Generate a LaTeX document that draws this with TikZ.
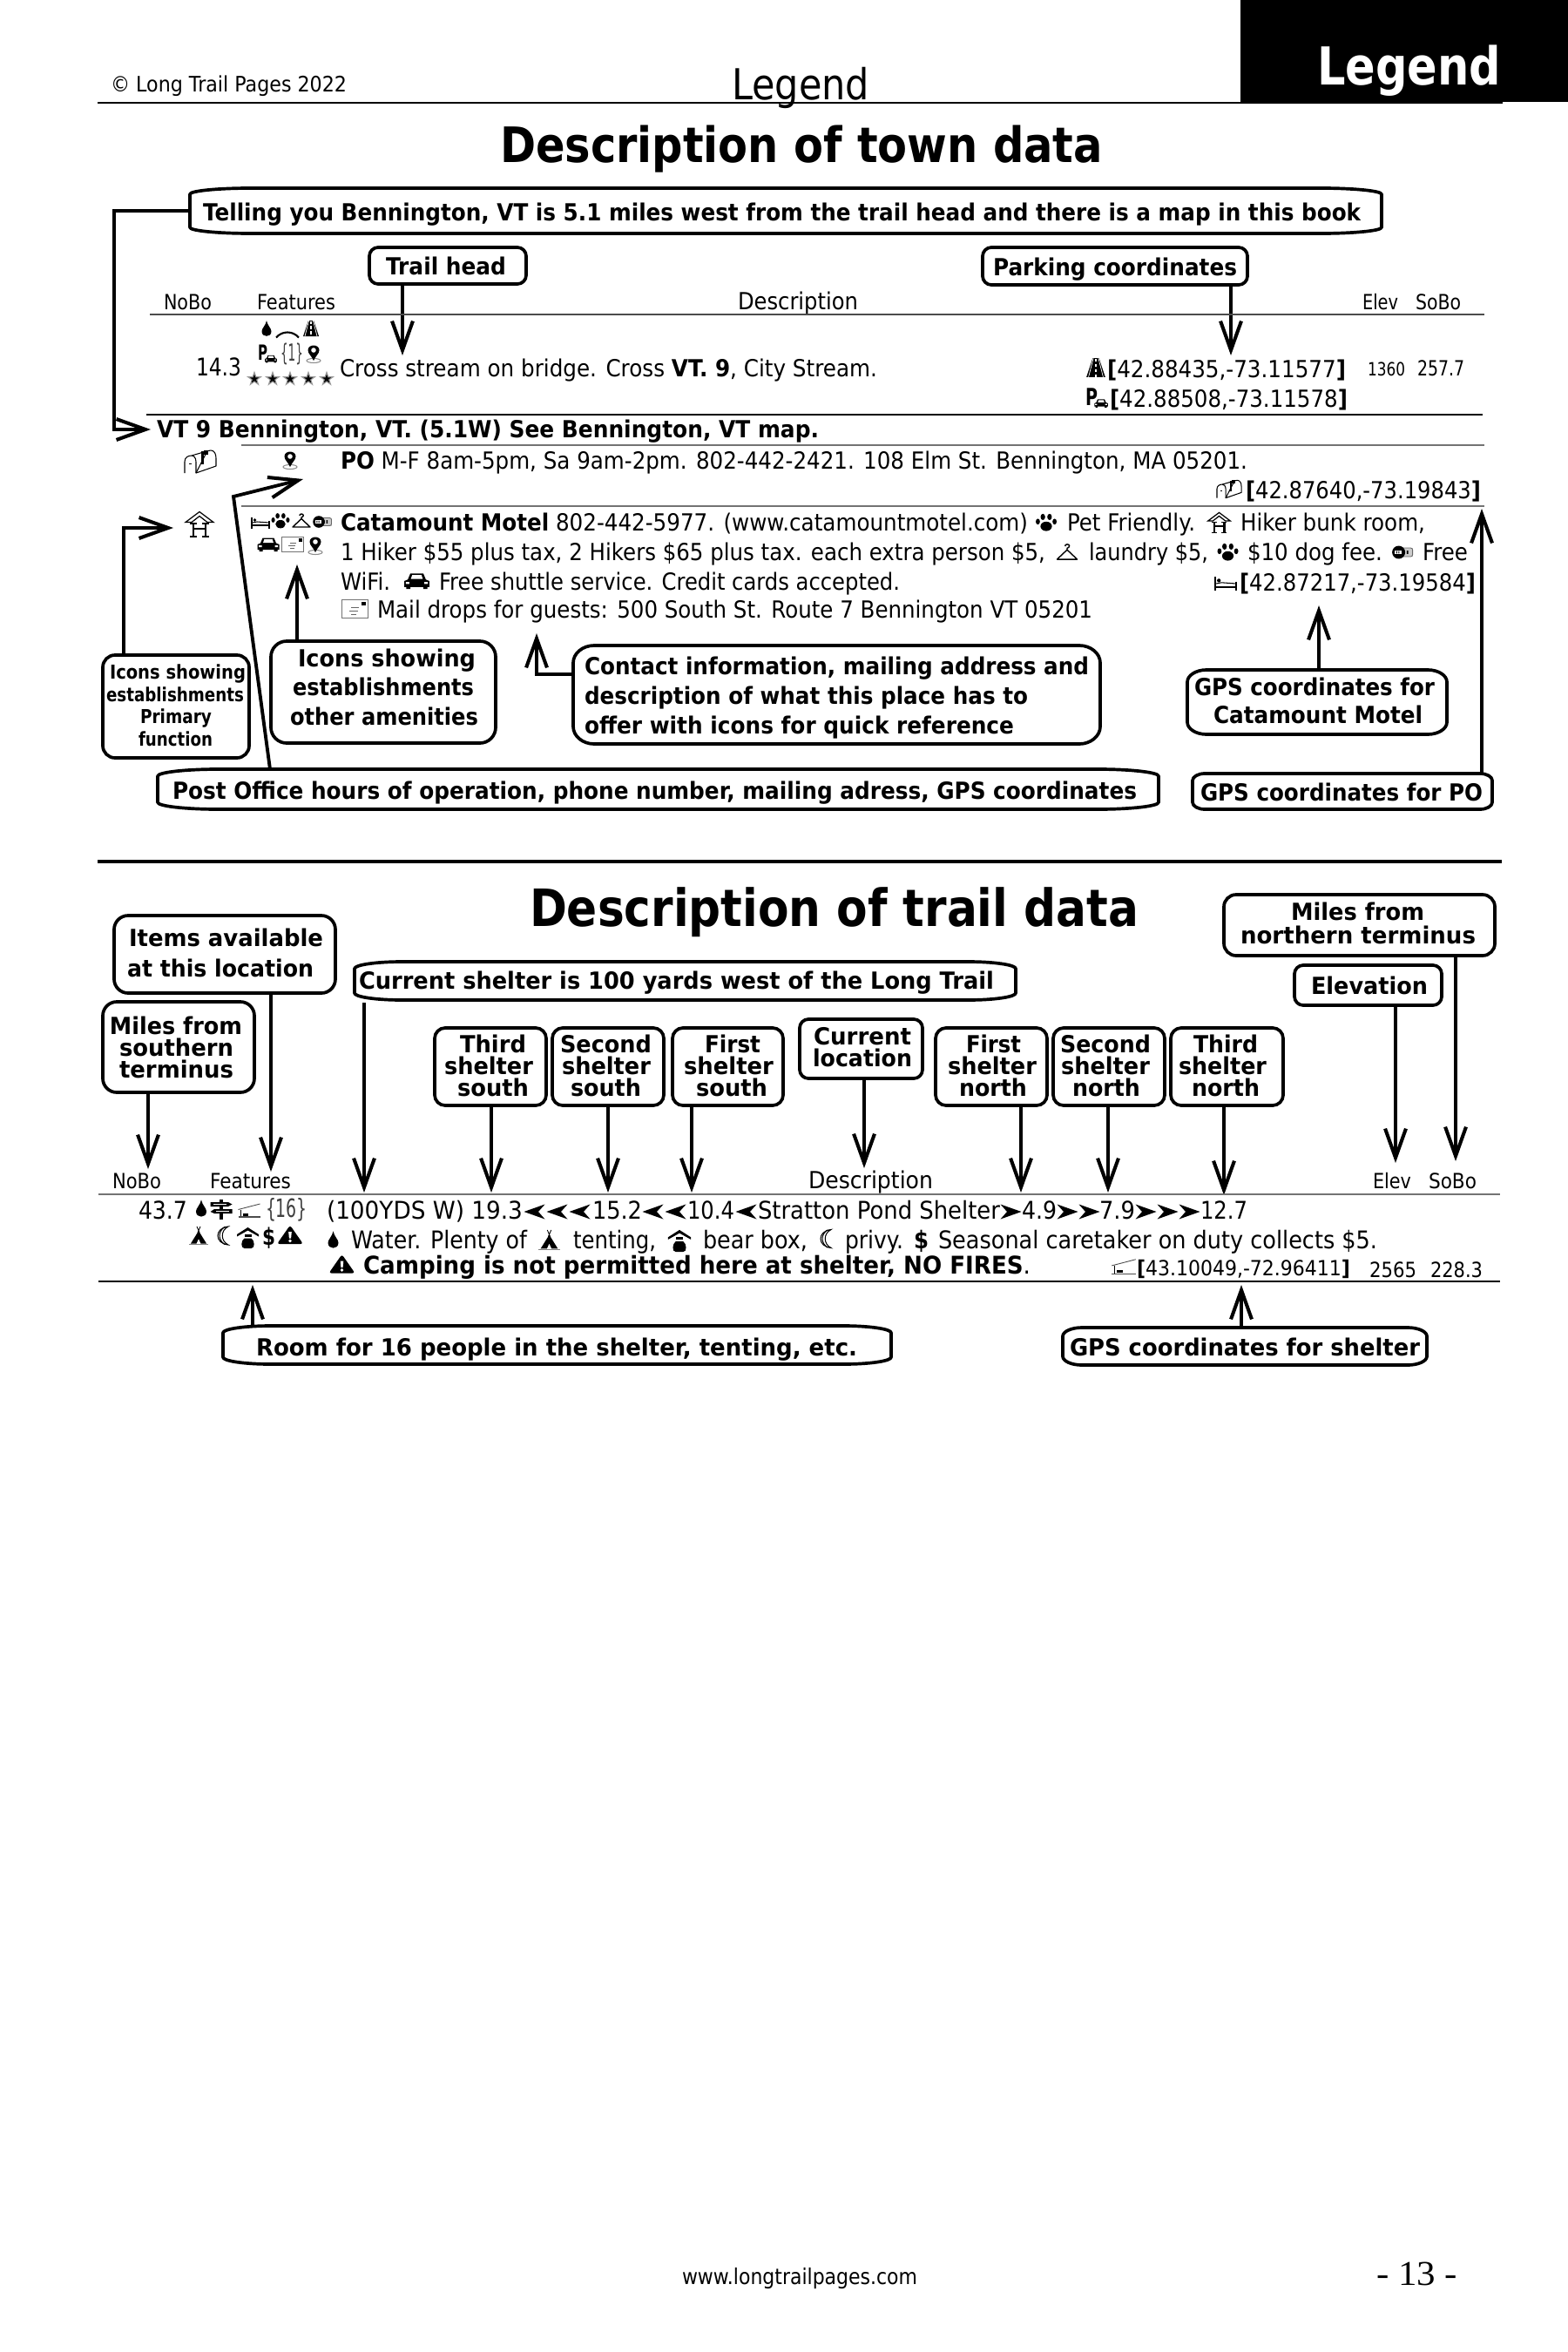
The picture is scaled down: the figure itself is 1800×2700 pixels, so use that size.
\documentclass[tikz,border=0pt]{standalone}
\usepackage{fontspec}
\usepackage{graphicx}
\setmainfont{DejaVu Sans}
\newfontfamily\pageserif{Liberation Serif}
\usetikzlibrary{arrows.meta,calc}
\newdimen\pxu \pxu=0.01cm
\newcommand\fz[1]{\pgfmathsetmacro\tmpfs{#1*0.2845}\fontsize{\tmpfs pt}{\tmpfs pt}\selectfont}
% name, x, baseline, width, size, text
\newcommand\tw[6]{\node[lbl] (#1) at (#2,#3) {\fz{#5}\resizebox{#4\pxu}{\height}{#6}};}
\newcommand\bw[6]{\tw{#1}{#2}{#3}{#4}{#5}{\bfseries #6}}
% name x1 y1 x2 y2 rx ry
\newcommand\ebox[7]{%
 \pgfmathsetmacro\ew{#4-(#2)}\pgfmathsetmacro\eh{#5-(#3)}%
 \node[boxanch,minimum width=\ew\pxu,minimum height=\eh\pxu] (#1) at ({(#2+#4)/2},{(#3+#5)/2}) {};%
 \draw[boxline] (#2+#6,#3) -- (#4-#6,#3) .. controls (#4-.45*#6,#3) and (#4,#3+.45*#7) .. (#4,#3+#7)
 -- (#4,#5-#7) .. controls (#4,#5-.45*#7) and (#4-.45*#6,#5) .. (#4-#6,#5)
 -- (#2+#6,#5) .. controls (#2+.45*#6,#5) and (#2,#5-.45*#7) .. (#2,#5-#7)
 -- (#2,#3+#7) .. controls (#2,#3+.45*#7) and (#2+.45*#6,#3) .. (#2+#6,#3) -- cycle;}
% id, box, anchor, x, y
\newcommand\varr[5]{\coordinate (#1) at (#4,#5); \draw[arr] (#2.#3 -| #1) -- (#1);}
\tikzset{
 lbl/.style={anchor=base west,inner sep=0pt,outer sep=0pt},
 boxanch/.style={rectangle,inner sep=0pt,outer sep=0pt},
 boxline/.style={line width=1.05pt,line join=round},
 arr/.style={line width=1.1pt,-{Straight Barb[length=9.5pt,width=6.8pt,line width=1.15pt]}},
 rulek/.style={line width=.75pt},
 rulet/.style={line width=.4pt},
 ruleg/.style={line width=.45pt,black!55},
 idrop/.pic={\fill (0,-8) .. controls (1,-3) and (5,0) .. (5,3) .. controls (5,6.5) and (2.5,8) .. (0,8) .. controls (-2.5,8) and (-5,6.5) .. (-5,3) .. controls (-5,0) and (-1,-3) .. (0,-8) -- cycle;},
 ibridge/.pic={\draw[line width=.6pt] (-13,3.5) .. controls (-6,-4.5) and (6,-4.5) .. (13,3.5);},
 iroad/.pic={\fill (-3,-9) -- (3,-9) -- (9,9) -- (-9,9) -- cycle;
   \draw[white,line width=.35pt,dash pattern=on 1pt off .7pt] (0,-8.5) -- (0,9);
   \draw[white,line width=.2pt] (-2.4,-9) -- (-7,9) (2.4,-9) -- (7,9);},
 icar/.pic={\fill (-12.5,6) -- (-12.5,0) -- (-9,-1.5) -- (-6.5,-7.5) -- (6.5,-7.5) -- (9,-1.5) -- (12.5,0) -- (12.5,6) -- (10.5,6) -- (10.5,8) -- (6.5,8) -- (6.5,6) -- (-6.5,6) -- (-6.5,8) -- (-10.5,8) -- (-10.5,6) -- cycle;
   \fill[white] (-6,-2) -- (-4.6,-6) -- (4.6,-6) -- (6,-2) -- cycle;
   \fill[white] (-11,1) rectangle (-7.5,3) (7.5,1) rectangle (11,3);},
 ipin/.pic={\draw[black!45,line width=.3pt] (0,8) ellipse (8 and 2.5);
   \fill (0,8) .. controls (-2,3) and (-6.5,0) .. (-6.5,-4) .. controls (-6.5,-7.5) and (-3.5,-9.5) .. (0,-9.5) .. controls (3.5,-9.5) and (6.5,-7.5) .. (6.5,-4) .. controls (6.5,0) and (2,3) .. (0,8) -- cycle;
   \fill[white] (0,-4) circle (2.8);},
 istar/.pic={\fill[black!40,scale=9.5] (0,-1) -- (.224,-.309) -- (.951,-.309) -- (.363,.118) -- (.588,.809) -- (0,.382) -- (-.588,.809) -- (-.363,.118) -- (-.951,-.309) -- (-.224,-.309) -- cycle;
   \fill[black,scale=5.5] (0,-1) -- (.224,-.309) -- (.951,-.309) -- (.363,.118) -- (.588,.809) -- (0,.382) -- (-.588,.809) -- (-.363,.118) -- (-.951,-.309) -- (-.224,-.309) -- cycle;},
 imbox/.pic={\draw[line width=.3pt,line join=round] (-18,13) -- (-18,0) .. controls (-18,-5) and (-14,-7) .. (-10,-7) -- (2,-10.5) (8,-12.3) -- (12,-13) .. controls (16,-13) and (18,-9) .. (18,-4) -- (18,5) -- (-5,13) -- cycle;
   \draw[line width=.3pt] (-5,13) -- (-5,0) .. controls (-5,-5) and (-8,-7) .. (-10,-7);
   \fill (-13,1.5) rectangle (-10,3);
   \fill (1,3) rectangle (3.5,-12); \fill (3.5,-13) -- (8.5,-13) -- (8.5,-8) -- (3.5,-8) -- cycle;},
 ihouse/.pic={\draw[line width=.35pt,line join=miter] (0,-14.5) -- (-16,-2.5) -- (-9,-2.5) -- (0,-9.5) -- (9,-2.5) -- (16,-2.5) -- cycle;
   \draw[line width=.8pt] (-7,-1) -- (-7,13.5) (7,-1) -- (7,13.5);
   \draw[line width=.35pt] (-7,5) -- (7,5) (-11,-1) -- (-3,-1) (3,-1) -- (11,-1) (-11,14) -- (-3,14) (3,14) -- (11,14);},
 ibed/.pic={\draw[line width=.35pt] (-10,-6.5) -- (-10,6.5) (10,-2) -- (10,6.5);
   \draw[line width=.6pt] (-10,3) -- (10,3);
   \draw[line width=.3pt] (-9,0) -- (-4,-1) -- (10,0);
   \fill (-6.5,-3) circle (1.8);},
 ipaw/.pic={\fill (0,3.5) ellipse (5.5 and 4.5);
   \fill (-8,-1) ellipse (2 and 2.8) (-3.2,-5.5) ellipse (2.2 and 3) (3.2,-5.5) ellipse (2.2 and 3) (8,-1) ellipse (2 and 2.8);},
 ihanger/.pic={\draw[line width=.4pt,line join=round] (0,-2.5) -- (-10,7) -- (10,7) -- cycle;
   \draw[line width=.4pt] (0,-2.5) -- (0,-4) .. controls (3,-5) and (3,-8) .. (0,-8) .. controls (-1.5,-8) and (-2,-7) .. (-2,-6);},
 iwifi/.pic={\fill[black!20] (-4,-4.5) rectangle (10.5,4.5);
   \draw[line width=.25pt,black!60,rounded corners=.6pt] (-4,-4.5) rectangle (10.5,4.5);
   \fill (-4,0) circle (6.8);
   \fill[white] (-8,-1.8) rectangle (-1,1.8);
   \fill[black] (-6.6,-1.2) rectangle (-5.6,1.2) (-4.3,-1.2) rectangle (-3.3,1.2) (1,-1.8) rectangle (2.5,1.8) (4.5,-1.8) rectangle (6,1.8);},
 imail/.pic={\draw[line width=.25pt,black!55] (-12.5,-8.5) rectangle (12.5,8.5);
   \fill (7,-6.5) rectangle (10.5,-3);
   \draw[line width=.25pt,black!60] (-3,-1) -- (4,-1) (-5,2) -- (3,2) (-3,5) -- (2,5);},
 isign/.pic={\draw[line width=1.1pt] (0,-11) -- (0,12);
   \fill (-12.5,-8) -- (8,-8) -- (12.5,-5.5) -- (8,-3) -- (-12.5,-3) -- cycle;
   \fill (-12.5,3) -- (-8,0) -- (12.5,0) -- (12.5,5) -- (-8,5) -- cycle;
   \draw[white,line width=.25pt] (-9,-5.5) -- (6,-5.5) (-6,2.5) -- (9,2.5);},
 ishelter/.pic={\draw[line width=.25pt,black!70] (-12.5,-1) -- (12.5,-7.5);
   \draw[line width=.25pt] (-10,-.5) -- (-10,7);
   \draw[line width=.3pt,black!70] (-12.5,7.5) -- (12.5,7.5);
   \draw[line width=.7pt] (-7,5) -- (-1,5);},
 itent/.pic={\fill (0,-5) -- (9,9.5) -- (2.5,9.5) -- (0,4) -- (-2.5,9.5) -- (-9,9.5) -- cycle;
   \draw[line width=.25pt] (-2,-10) -- (1,-3) (2,-10) -- (-1,-3);
   \draw[line width=.25pt,black!50] (-11,10.5) -- (11,10.5);},
 imoon/.pic={\draw[line width=.3pt] (6,-10.5) .. controls (-10,-9) and (-10,9) .. (6,10.5) .. controls (-3,6) and (-3,-6) .. (6,-10.5) -- cycle;
   \draw[line width=.3pt] (2,-10) .. controls (-6,-5) and (-6,5) .. (2,10);},
 ibear/.pic={\fill (-12.5,-4) -- (0,-12) -- (12.5,-4) -- (12.5,-1.5) -- (0,-8.5) -- (-12.5,-1.5) -- cycle;
   \fill (-4,-4) rectangle (4,-1.5);
   \fill (-4,.5) -- (4,.5) .. controls (8,3) and (8.5,12) .. (4,12) -- (-4,12) .. controls (-8.5,12) and (-8,3) .. (-4,.5) -- cycle;},
 iwarn/.pic={\fill[rounded corners=.8pt] (0,-11) -- (15,10.5) -- (-15,10.5) -- cycle;
   \fill[white] (-1.8,-3.5) -- (1.8,-3.5) -- (1.1,4) -- (-1.1,4) -- cycle;
   \fill[white] (0,7) circle (1.8);},
 ichl/.pic={\fill (-12.5,0) -- (11.5,-8.5) -- (4,0) -- (11.5,8.5) -- cycle;},
 ichr/.pic={\fill (12.5,0) -- (-11.5,-8.5) -- (-4,0) -- (-11.5,8.5) -- cycle;},
}
\begin{document}
\begin{tikzpicture}[x=0.01cm,y=-0.01cm]
\useasboundingbox (0,0) rectangle (1800,2700);
\fill[white] (0,0) rectangle (1800,2700);
% header
\fill[black] (1424,0) rectangle (1800,117);
\draw[rulek,line width=.85pt] (112,118) -- (1725,118);
\tw{copy}{127}{106}{271}{24.5}{© Long Trail Pages 2022}
\tw{legc}{840}{115}{158}{49}{Legend}
\node[lbl,text=white] (legb) at (1512,98) {\fz{60}\bfseries\resizebox{211\pxu}{\height}{Legend}};
\bw{titlea}{574}{187}{692}{56}{Description of town data}
% town callouts
\ebox{tell}{218}{216}{1586}{268}{70}{7}
\bw{telltx}{233}{254}{1329}{27}{Telling you Bennington, VT is 5.1 miles west from the trail head and there is a map in this book}
\ebox{thead}{424}{284}{604}{326}{10}{10}
\bw{theadtx}{443}{315}{138}{27}{Trail head}
\ebox{pcoord}{1128}{284}{1432}{327}{10}{10}
\bw{pcoordtx}{1140}{316}{280}{27}{Parking coordinates}
\varr{ta}{thead}{south}{462}{408}
\varr{pa}{pcoord}{south}{1413}{408}
% town header row
\tw{hn1}{188}{355}{55}{24}{NoBo}
\tw{hf1}{295}{355}{90}{24}{Features}
\tw{hd1}{847}{355}{138}{27}{Description}
\tw{he1}{1564}{355}{41}{24}{Elev}
\tw{hs1}{1625}{355}{52}{24}{SoBo}
\draw[rulet,black!70] (172,361) -- (1704,361);
% trail head row
\pic[scale=1.1] at (306,377) {idrop};
\pic at (330,384) {ibridge};
\pic at (357,377) {iroad};
\bw{pk1}{296}{413}{11}{24}{P}
\pic[scale=.55] at (311,412) {icar};
\tw{br1}{322}{414}{26}{27}{\color{black!75}\{1\}}
\pic at (360,406) {ipin};
\pic at (292,435) {istar};
\pic at (313,435) {istar};
\pic at (333,435) {istar};
\pic at (354,435) {istar};
\pic at (375,435) {istar};
\tw{m143}{225}{432}{52}{28}{14.3}
\tw{cross}{390}{432}{617}{27}{Cross stream on bridge. Cross \textbf{VT. 9}, City Stream.}
\pic[scale=1.2] at (1258,422) {iroad};
\tw{gp1}{1271}{433}{274}{27}{\textbf{[}42.88435,-73.11577\textbf{]}}
\bw{pk2}{1246}{465}{14}{27}{P}
\pic[scale=.62] at (1264,463) {icar};
\tw{gp2}{1274}{467}{273}{27}{\textbf{[}42.88508,-73.11578\textbf{]}}
\tw{el1}{1570}{431}{43}{21}{1360}
\tw{so1}{1627}{431}{54}{24}{257.7}
\draw[rulek] (168,476) -- (1702,476);
\bw{vt9}{180}{502}{760}{27}{VT 9 Bennington, VT. (5.1W) See Bennington, VT map.}
\draw[ruleg] (277,511) -- (1704,511);
% PO row
\pic at (230,530) {imbox};
\pic at (333,528) {ipin};
\tw{po}{391}{538}{1041}{27}{\textbf{PO} M-F 8am-5pm, Sa 9am-2pm. 802-442-2421. 108 Elm St. Bennington, MA 05201.}
\pic[scale=.78] at (1411,561.5) {imbox};
\tw{gp3}{1430}{572}{270}{27}{\textbf{[}42.87640,-73.19843\textbf{]}}
\draw[ruleg] (277,581) -- (1704,581);
% motel
\pic at (229,602) {ihouse};
\pic at (299,600) {ibed};
\pic[scale=1.05] at (322,598) {ipaw};
\pic at (346,598) {ihanger};
\pic at (370,599) {iwifi};
\pic at (308,625) {icar};
\pic at (336,624.5) {imail};
\pic at (362,626) {ipin};
\tw{ca1}{391}{609}{789}{27}{\textbf{Catamount Motel} 802-442-5977. (www.catamountmotel.com)}
\pic[scale=1.2] at (1201,600) {ipaw};
\tw{ca2}{1225}{609}{147}{27}{Pet Friendly.}
\pic[scale=.8] at (1399.5,600) {ihouse};
\tw{ca3}{1424}{609}{212}{27}{Hiker bunk room,}
\tw{ca4}{391}{643}{809}{27}{1 Hiker \$55 plus tax, 2 Hikers \$65 plus tax. each extra person \$5,}
\pic[scale=1.15] at (1225,634) {ihanger};
\tw{ca5}{1250}{643}{137}{27}{laundry \$5,}
\pic[scale=1.2] at (1409.5,634) {ipaw};
\tw{ca6}{1432}{643}{155}{27}{\$10 dog fee.}
\pic[scale=1.1] at (1610,634) {iwifi};
\tw{ca7}{1633}{643}{52}{27}{Free}
\tw{ca8}{391}{677}{57}{27}{WiFi.}
\pic[scale=1.15] at (478.5,667) {icar};
\tw{ca9}{504}{677}{529}{27}{Free shuttle service. Credit cards accepted.}
\pic[scale=1.2] at (1407,670) {ibed};
\tw{gp4}{1423}{678}{271}{27}{\textbf{[}42.87217,-73.19584\textbf{]}}
\pic[scale=1.2] at (407,699) {imail};
\tw{ca10}{433}{709}{821}{27}{Mail drops for guests: 500 South St. Route 7 Bennington VT 05201}
% town boxes
\ebox{prim}{118}{752}{286}{870}{14}{14}
\bw{pr1}{126}{779}{156}{22}{Icons showing}
\bw{pr2}{122}{805}{158}{22}{establishments}
\bw{pr3}{161}{830}{82}{22}{Primary}
\bw{pr4}{159}{856}{85}{22}{function}
\ebox{amen}{311}{736}{569}{853}{18}{18}
\bw{am1}{342}{765}{204}{27}{Icons showing}
\bw{am2}{336}{798}{208}{27}{establishments}
\bw{am3}{333}{832}{216}{27}{other amenities}
\ebox{cont}{658}{741}{1263}{854}{24}{20}
\bw{co1}{671}{774}{579}{27}{Contact information, mailing address and}
\bw{co2}{671}{808}{509}{27}{description of what this place has to}
\bw{co3}{671}{842}{493}{27}{offer with icons for quick reference}
\ebox{mgps}{1363}{769}{1661}{843}{22}{14}
\bw{mg1}{1371}{798}{276}{27}{GPS coordinates for}
\bw{mg2}{1393}{830}{240}{27}{Catamount Motel}
\ebox{pobox}{181}{883}{1330}{929}{70}{8}
\bw{potx}{198}{917}{1107}{27}{Post Office hours of operation, phone number, mailing adress, GPS coordinates}
\ebox{pgps}{1369}{888}{1713}{929}{14}{8}
\bw{pgtx}{1378}{919}{324}{27}{GPS coordinates for PO}
% town connectors
\coordinate (e1) at (131,242); \coordinate (vtin) at (173,493);
\draw[arr] (tell.west |- e1) -- (e1) -- (e1 |- vtin) -- (vtin);
\coordinate (hc) at (142,606); \coordinate (hin) at (199,606);
\draw[arr] (prim.north -| hc) -- (hc) -- (hin);
\coordinate (poe) at (310,883); \coordinate (poc) at (268,570); \coordinate (pot) at (348,550);
\draw[arr] (poe) -- (poc) -- (pot);
\varr{ama}{amen}{north}{341}{648}
\coordinate (ce) at (616,774); \coordinate (ct) at (616,727);
\draw[arr] (cont.west |- ce) -- (ce) -- (ct);
\varr{mga}{mgps}{north}{1514}{695}
\varr{pga}{pgps}{north}{1701}{584}
% separator
\draw[line width=1pt] (112,989) -- (1724,989);
% trail
\bw{titleb}{608}{1063}{699}{59}{Description of trail data}
\ebox{items}{131}{1051}{385}{1140}{16}{16}
\bw{it1}{148}{1086}{223}{27}{Items available}
\bw{it2}{146}{1121}{214}{27}{at this location}
\ebox{msouth}{118}{1150}{292}{1254}{16}{16}
\bw{ms1}{126}{1187}{152}{27}{Miles from}
\bw{ms2}{137}{1212}{131}{27}{southern}
\bw{ms3}{137}{1237}{131}{27}{terminus}
\ebox{cshel}{407}{1104}{1166}{1148}{55}{8}
\bw{cstx}{412}{1135}{729}{27}{Current shelter is 100 yards west of the Long Trail}
\ebox{ts}{499}{1180}{627}{1269}{12}{12}
\bw{ts1}{528}{1208}{76}{27}{Third}
\bw{ts2}{510}{1233}{102}{27}{shelter}
\bw{ts3}{525}{1258}{82}{27}{south}
\ebox{ss}{634}{1180}{762}{1269}{12}{12}
\bw{ss1}{643}{1208}{105}{27}{Second}
\bw{ss2}{645}{1233}{102}{27}{shelter}
\bw{ss3}{655}{1258}{81}{27}{south}
\ebox{fs}{772}{1180}{899}{1269}{12}{12}
\bw{fs1}{809}{1208}{64}{27}{First}
\bw{fs2}{785}{1233}{103}{27}{shelter}
\bw{fs3}{799}{1258}{82}{27}{south}
\ebox{curl}{918}{1170}{1059}{1238}{10}{10}
\bw{cl1}{934}{1199}{112}{27}{Current}
\bw{cl2}{933}{1224}{114}{27}{location}
\ebox{fn}{1074}{1180}{1202}{1269}{12}{12}
\bw{fn1}{1109}{1208}{63}{27}{First}
\bw{fn2}{1088}{1233}{102}{27}{shelter}
\bw{fn3}{1101}{1258}{78}{27}{north}
\ebox{sn}{1209}{1180}{1337}{1269}{12}{12}
\bw{sn1}{1217}{1208}{104}{27}{Second}
\bw{sn2}{1218}{1233}{102}{27}{shelter}
\bw{sn3}{1231}{1258}{78}{27}{north}
\ebox{tn}{1344}{1180}{1473}{1269}{12}{12}
\bw{tn1}{1370}{1208}{74}{27}{Third}
\bw{tn2}{1353}{1233}{101}{27}{shelter}
\bw{tn3}{1368}{1258}{78}{27}{north}
\ebox{mnorth}{1405}{1027}{1716}{1097}{14}{14}
\bw{mn1}{1482}{1056}{153}{27}{Miles from}
\bw{mn2}{1424}{1083}{270}{27}{northern terminus}
\ebox{elev}{1486}{1108}{1655}{1154}{10}{10}
\bw{evtx}{1505}{1141}{134}{27}{Elevation}
\varr{a1}{msouth}{south}{170}{1342}
\varr{a2}{items}{south}{311}{1345}
\coordinate (a3) at (418,1369); \draw[arr] ($(cshel.south -| a3)+(0,3)$) -- (a3);
\varr{a4}{ts}{south}{564}{1369}
\varr{a5}{ss}{south}{698}{1369}
\varr{a6}{fs}{south}{794}{1369}
\varr{a7}{curl}{south}{992}{1341}
\varr{a8}{fn}{south}{1172}{1369}
\varr{a9}{sn}{south}{1272}{1369}
\varr{a10}{tn}{south}{1405}{1372}
\varr{a11}{elev}{south}{1602}{1335}
\varr{a12}{mnorth}{south}{1671}{1333}
% trail header row
\tw{hn2}{129}{1364}{56}{24}{NoBo}
\tw{hf2}{241}{1364}{93}{24}{Features}
\tw{hd2}{928}{1364}{143}{27}{Description}
\tw{he2}{1576}{1364}{44}{24}{Elev}
\tw{hs2}{1640}{1364}{55}{24}{SoBo}
\draw[rulet,black!55,line width=.5pt] (113,1371) -- (1722,1371);
% trail data
\tw{m437}{159}{1399}{56}{28}{43.7}
\pic[scale=1.2] at (231,1387) {idrop};
\pic at (254,1388) {isign};
\pic at (286,1389.5) {ishelter};
\tw{br16}{305}{1397}{48}{29}{\color{black!75}\{16\}}
\pic at (228,1418) {itent};
\pic at (256,1418.5) {imoon};
\pic at (284.5,1421) {ibear};
\bw{dol1}{301}{1429}{15}{27}{\$}
\pic at (333,1417.5) {iwarn};
\tw{t1}{375}{1399}{225}{28}{(100YDS W) 19.3}
\pic at (614,1391) {ichl}; \pic at (640,1391) {ichl}; \pic at (666,1391) {ichl};
\tw{t2}{680}{1399}{57}{28}{15.2}
\pic at (750,1391) {ichl}; \pic at (776,1391) {ichl};
\tw{t3}{789}{1399}{54}{28}{10.4}
\pic at (857,1391) {ichl};
\tw{t4}{870}{1399}{278}{28}{Stratton Pond Shelter}
\pic at (1160,1391) {ichr};
\tw{t5}{1173}{1399}{40}{28}{4.9}
\pic at (1225,1391) {ichr}; \pic at (1250,1391) {ichr};
\tw{t6}{1262}{1399}{41}{28}{7.9}
\pic at (1315,1391) {ichr}; \pic at (1340,1391) {ichr}; \pic at (1365,1391) {ichr};
\tw{t7}{1378}{1399}{54}{28}{12.7}
\pic[scale=1.2] at (382.5,1423) {idrop};
\tw{w1}{403}{1433}{202}{28}{Water. Plenty of}
\pic[scale=1.1] at (630.5,1423) {itent};
\tw{w2}{658}{1433}{95}{28}{tenting,}
\pic[scale=1.05] at (780,1424.5) {ibear};
\tw{w3}{807}{1433}{120}{28}{bear box,}
\pic at (948,1422) {imoon};
\tw{w4}{970}{1433}{67}{28}{privy.}
\bw{dol2}{1049}{1433}{17}{28}{\$}
\tw{w5}{1077}{1433}{504}{28}{Seasonal caretaker on duty collects \$5.}
\pic at (392.5,1451) {iwarn};
\tw{w6}{417}{1462}{766}{28}{\textbf{Camping is not permitted here at shelter, NO FIRES}.}
\pic[scale=1.1] at (1290,1454) {ishelter};
\tw{gp5}{1305}{1464}{245}{24}{\textbf{[}43.10049,-72.96411\textbf{]}}
\tw{el2}{1572}{1466}{54}{24}{2565}
\tw{so2}{1642}{1466}{60}{24}{228.3}
\draw[rulet] (113,1471) -- (1722,1471);
\ebox{room}{256}{1522}{1023}{1566}{55}{8}
\bw{rmtx}{294}{1556}{690}{27}{Room for 16 people in the shelter, tenting, etc.}
\ebox{sgps}{1220}{1524}{1638}{1567}{22}{10}
\bw{sgtx}{1228}{1556}{402}{27}{GPS coordinates for shelter}
\varr{b1}{room}{north}{290}{1475}
\varr{b2}{sgps}{north}{1425}{1475}
% footer
\tw{web}{783}{2622}{270}{25}{www.longtrailpages.com}
\tw{pgn}{1580}{2623}{93}{40}{\pageserif - 13 -}
\end{tikzpicture}
\end{document}
